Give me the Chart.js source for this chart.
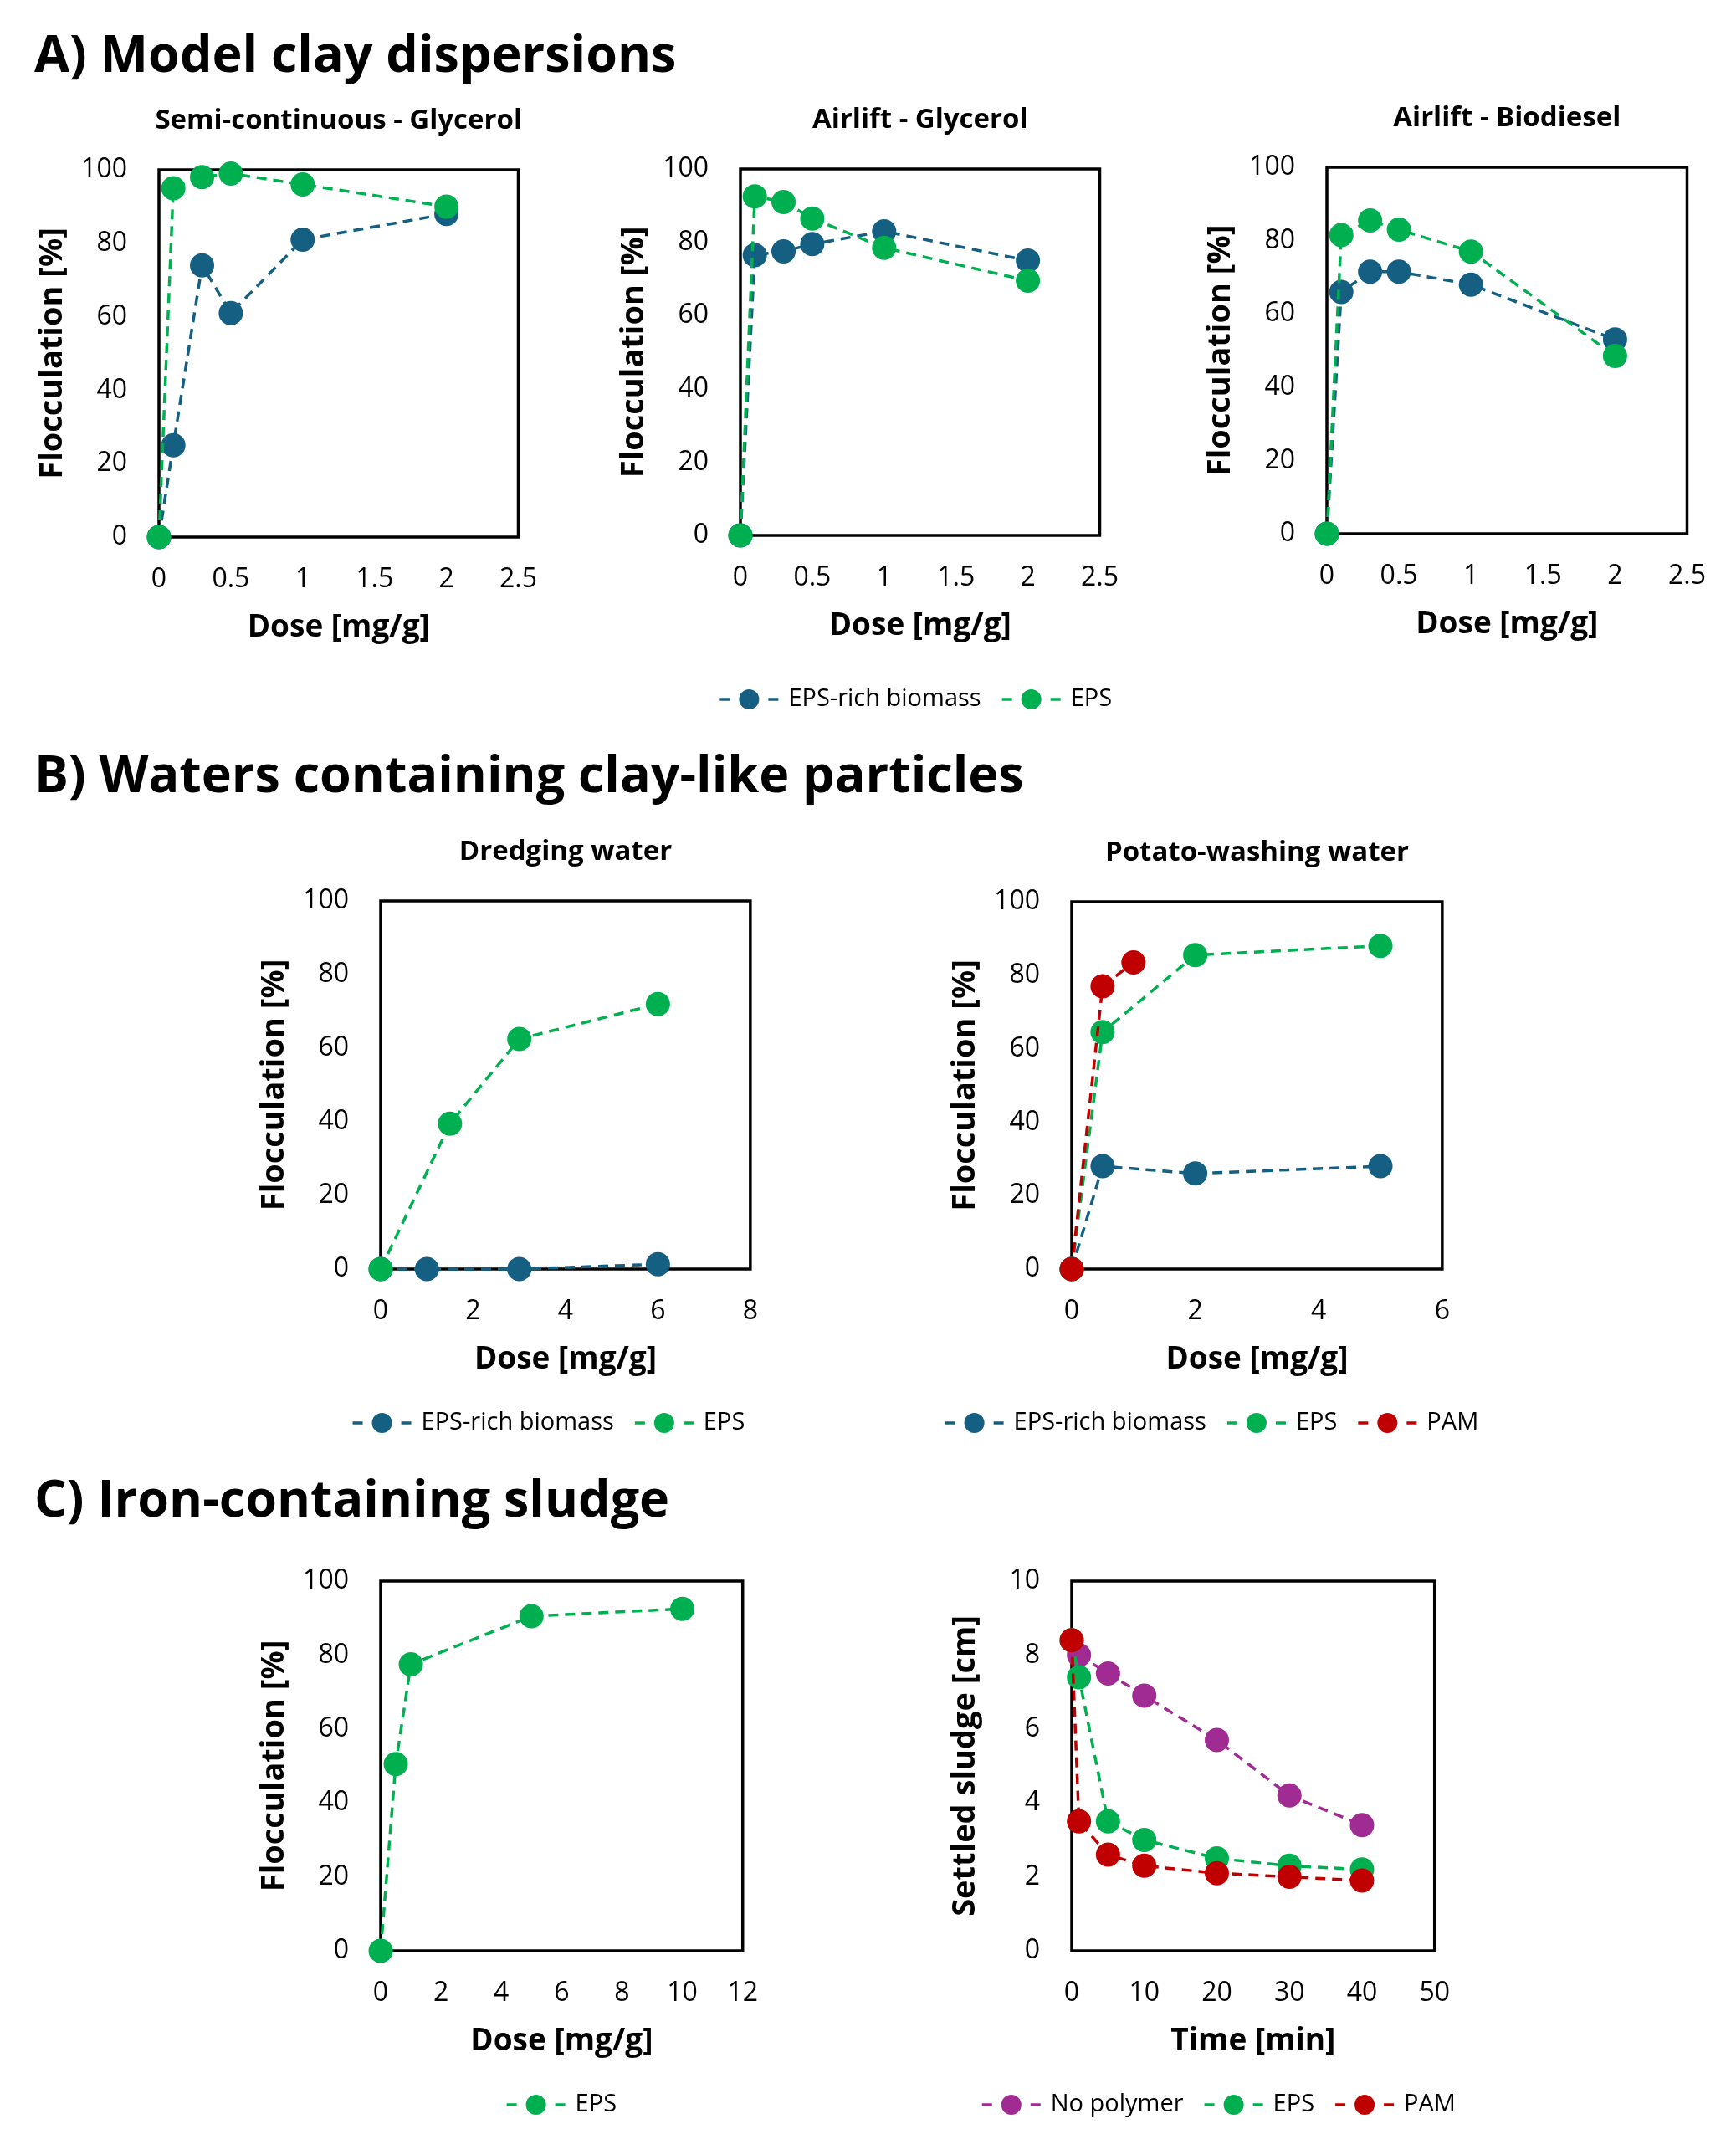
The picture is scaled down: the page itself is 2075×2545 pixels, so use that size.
<!DOCTYPE html>
<html>
<head>
<meta charset="utf-8">
<script src="https://cdn.jsdelivr.net/npm/chart.js@4.4.1/dist/chart.umd.min.js"></script>
<style>
  body { margin: 0; background: #fff; width: 2075px; height: 2545px; position: relative; overflow: hidden; font-family: 'Open Sans', sans-serif; }
  .sec { position: absolute; left: 41px; font-weight: 700; font-size: 61px; line-height: 61px; color: #000; white-space: nowrap; }
  canvas { position: absolute; }
</style>
</head>
<body>
<div class="sec" style="top:32px">A) Model clay dispersions</div>
<div class="sec" style="top:893px">B) Waters containing clay-like particles</div>
<div class="sec" style="top:1759px">C) Iron-containing sludge</div>
<canvas id="a1"></canvas>
<canvas id="a2"></canvas>
<canvas id="a3"></canvas>
<canvas id="b1"></canvas>
<canvas id="b2"></canvas>
<canvas id="c1"></canvas>
<canvas id="c2"></canvas>
<script>
// colours of the series
const BLUE = '#156082', GREEN = '#00B050', RED = '#C00000', PURPLE = '#A02B93';

// A) model clay dispersions, dose in mg/g, flocculation in %
const doseA = [0, 0.1, 0.3, 0.5, 1, 2];
const semiBiomass = [0, 25, 74, 61, 81, 88];
const semiEps = [0, 95, 98, 99, 96, 90];
const airGlyBiomass = [0, 76.5, 77.5, 79.5, 83, 75];
const airGlyEps = [0, 92.5, 91, 86.5, 78.5, 69.5];
const airBioBiomass = [0, 66, 71.5, 71.5, 68, 53];
const airBioEps = [0, 81.5, 85.5, 83, 77, 48.5];

// B) waters containing clay-like particles
const dredgeDoseBiomass = [0, 1, 3, 6];
const dredgeBiomass = [0, 0, 0, 1.3];
const dredgeDoseEps = [0, 1.5, 3, 6];
const dredgeEps = [0, 39.5, 62.5, 72];
const potatoDose = [0, 0.5, 2, 5];
const potatoBiomass = [0, 28, 26, 28];
const potatoEps = [0, 64.5, 85.5, 88];
const potatoDosePam = [0, 0.5, 1];
const potatoPam = [0, 77, 83.5];

// C) iron-containing sludge
const ironDose = [0, 0.5, 1, 5, 10];
const ironEps = [0, 50.5, 77.5, 90.5, 92.5];
const timeNoPolymer = [1, 5, 10, 20, 30, 40];
const sludgeNoPolymer = [8.0, 7.5, 6.9, 5.7, 4.2, 3.4];
const timePolymer = [0, 1, 5, 10, 20, 30, 40];
const sludgeEps = [8.4, 7.4, 3.5, 3.0, 2.5, 2.3, 2.2];
const sludgePam = [8.4, 3.5, 2.6, 2.3, 2.1, 2.0, 1.9];

// tick labels
const doseTicksA = [0, 0.5, 1, 1.5, 2, 2.5];
const doseTicksDredge = [0, 2, 4, 6, 8];
const doseTicksPotato = [0, 2, 4, 6];
const doseTicksIron = [0, 2, 4, 6, 8, 10, 12];
const timeTicks = [0, 10, 20, 30, 40, 50];
const flocTicks = [0, 20, 40, 60, 80, 100];
const sludgeTicks = [0, 2, 4, 6, 8, 10];

Chart.defaults.font.family = "'Open Sans', sans-serif";
Chart.defaults.color = '#000';

function series(label, color, xs, ys) {
  return {
    label: label,
    data: xs.map((x, i) => ({ x: x, y: ys[i] })),
    borderColor: color,
    backgroundColor: color,
    pointBackgroundColor: color,
    pointBorderColor: color,
    pointBorderWidth: 0,
    pointRadius: 14.5,
    pointHoverRadius: 14.5,
    borderWidth: 3.5,
    borderDash: [12, 8],
    tension: 0,
    clip: false
  };
}

// plot frame, panel title and excel-like legend
const panelPlugin = {
  id: 'panel',
  beforeDatasetsDraw(chart) {
    const { ctx, chartArea: a } = chart;
    ctx.save();
    ctx.lineWidth = 3.5;
    ctx.strokeStyle = '#000';
    ctx.strokeRect(a.left, a.top, a.right - a.left, a.bottom - a.top);
    ctx.restore();
  },
  afterDraw(chart) {
    const o = chart.options.plugins.panel;
    const { ctx, chartArea: a } = chart;
    const cx = (a.left + a.right) / 2;
    ctx.save();
    ctx.fillStyle = '#000';
    ctx.textBaseline = 'middle';
    if (o.title) {
      ctx.font = "bold 33px 'Open Sans'";
      ctx.textAlign = 'center';
      ctx.fillText(o.title, cx, a.top - 58);
    }
    if (o.legend) {
      const y = a.bottom + o.legend.dy;
      ctx.font = "29px 'Open Sans'";
      const items = chart.data.datasets.map(d => ({ label: d.label, color: d.borderColor, w: ctx.measureText(d.label).width }));
      const sym = 70, gapText = 12, gapItem = 25;
      const total = items.reduce((s, it) => s + sym + gapText + it.w, 0) + gapItem * (items.length - 1);
      let x = cx + o.legend.dx - total / 2;
      items.forEach(it => {
        ctx.strokeStyle = it.color;
        ctx.lineWidth = 3.5;
        ctx.beginPath();
        ctx.moveTo(x, y); ctx.lineTo(x + 12, y);
        ctx.moveTo(x + sym - 12, y); ctx.lineTo(x + sym, y);
        ctx.stroke();
        ctx.fillStyle = it.color;
        ctx.beginPath();
        ctx.arc(x + sym / 2, y, 12, 0, Math.PI * 2);
        ctx.fill();
        ctx.fillStyle = '#000';
        ctx.textAlign = 'left';
        ctx.fillText(it.label, x + sym + gapText, y);
        x += sym + gapText + it.w + gapItem;
      });
    }
    ctx.restore();
  }
};

function axis(ticks, title, horizontal) {
  return {
    type: 'linear',
    min: ticks[0],
    max: ticks[ticks.length - 1],
    afterBuildTicks: s => { s.ticks = ticks.map(v => ({ value: v })); },
    afterFit: s => { if (horizontal) s.height = 140; else s.width = 150; },
    grid: { display: false, drawTicks: false, tickLength: 0 },
    border: { display: false },
    ticks: {
      font: { size: 32 },
      color: '#000',
      padding: horizontal ? 32 : 38,
      autoSkip: false,
      maxRotation: 0,
      callback: v => String(v)
    },
    title: {
      display: true,
      text: title,
      color: '#000',
      font: { size: horizontal ? 37 : 38, weight: 'bold' },
      padding: horizontal ? { top: 0, bottom: 9 } : { top: 0, bottom: 0 }
    }
  };
}

function makeChart(id, box, cfg) {
  const [L, T, R, B] = box;
  const el = document.getElementById(id);
  const left = L - 160, top = T - 100, w = R + 40 - left, h = B + 230 - top;
  el.style.left = left + 'px';
  el.style.top = top + 'px';
  el.width = w; el.height = h;
  el.style.width = w + 'px'; el.style.height = h + 'px';
  cfg.datasets.forEach((d, i) => { d.order = cfg.datasets.length - i; });
  return new Chart(el, {
    type: 'line',
    data: { datasets: cfg.datasets },
    plugins: [panelPlugin],
    options: {
      responsive: false,
      animation: false,
      devicePixelRatio: 1,
      events: [],
      layout: { padding: { left: 10, top: 100, right: 40, bottom: 90 } },
      scales: {
        x: axis(cfg.xTicks, cfg.xTitle, true),
        y: axis(cfg.yTicks, cfg.yTitle, false)
      },
      plugins: {
        legend: { display: false },
        title: { display: false },
        tooltip: { enabled: false },
        panel: { title: cfg.title, legend: cfg.legend }
      }
    }
  });
}

makeChart('a1', [190, 203, 634, 642], {
  datasets: [series('EPS-rich biomass', BLUE, doseA, semiBiomass), series('EPS', GREEN, doseA, semiEps)],
  xTicks: doseTicksA, yTicks: flocTicks, xTitle: 'Dose [mg/g]', yTitle: 'Flocculation [%]',
  title: 'Semi-continuous - Glycerol'
});
makeChart('a2', [885, 202, 1329, 640], {
  datasets: [series('EPS-rich biomass', BLUE, doseA, airGlyBiomass), series('EPS', GREEN, doseA, airGlyEps)],
  xTicks: doseTicksA, yTicks: flocTicks, xTitle: 'Dose [mg/g]', yTitle: 'Flocculation [%]',
  title: 'Airlift - Glycerol', legend: { dx: -5, dy: 196 }
});
makeChart('a3', [1586, 200, 2031, 638], {
  datasets: [series('EPS-rich biomass', BLUE, doseA, airBioBiomass), series('EPS', GREEN, doseA, airBioEps)],
  xTicks: doseTicksA, yTicks: flocTicks, xTitle: 'Dose [mg/g]', yTitle: 'Flocculation [%]',
  title: 'Airlift - Biodiesel'
});
makeChart('b1', [455, 1077, 898, 1517], {
  datasets: [series('EPS-rich biomass', BLUE, dredgeDoseBiomass, dredgeBiomass), series('EPS', GREEN, dredgeDoseEps, dredgeEps)],
  xTicks: doseTicksDredge, yTicks: flocTicks, xTitle: 'Dose [mg/g]', yTitle: 'Flocculation [%]',
  title: 'Dredging water', legend: { dx: -20, dy: 184 }
});
makeChart('b2', [1281, 1078, 1725, 1517], {
  datasets: [series('EPS-rich biomass', BLUE, potatoDose, potatoBiomass), series('EPS', GREEN, potatoDose, potatoEps), series('PAM', RED, potatoDosePam, potatoPam)],
  xTicks: doseTicksPotato, yTicks: flocTicks, xTitle: 'Dose [mg/g]', yTitle: 'Flocculation [%]',
  title: 'Potato-washing water', legend: { dx: -54, dy: 184 }
});
makeChart('c1', [455, 1890, 898, 2332], {
  datasets: [series('EPS', GREEN, ironDose, ironEps)],
  xTicks: doseTicksIron, yTicks: flocTicks, xTitle: 'Dose [mg/g]', yTitle: 'Flocculation [%]',
  legend: { dx: 0, dy: 184 }
});
makeChart('c2', [1281, 1890, 1725, 2332], {
  datasets: [series('No polymer', PURPLE, timeNoPolymer, sludgeNoPolymer), series('EPS', GREEN, timePolymer, sludgeEps), series('PAM', RED, timePolymer, sludgePam)],
  xTicks: timeTicks, yTicks: sludgeTicks, xTitle: 'Time [min]', yTitle: 'Settled sludge [cm]',
  legend: { dx: -41, dy: 184 }
});
</script>
</body>
</html>
